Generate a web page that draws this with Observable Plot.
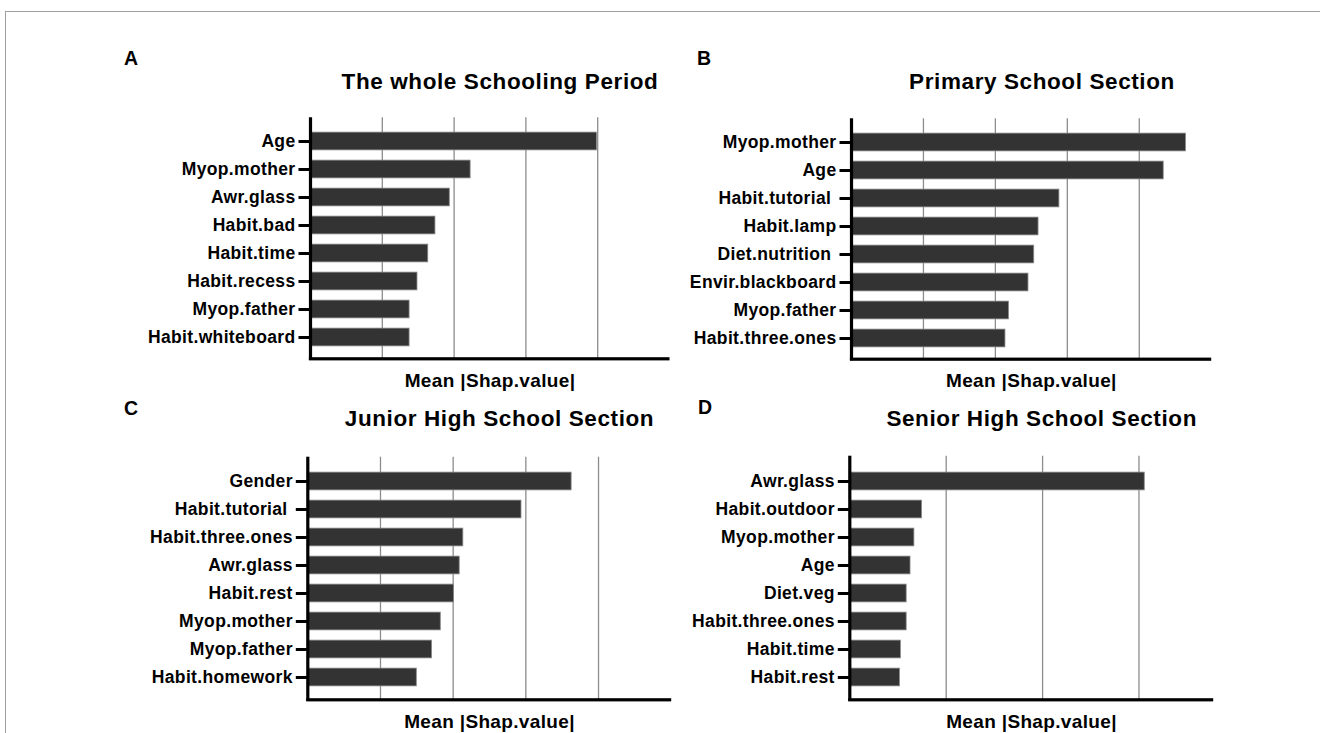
<!DOCTYPE html>
<html>
<head>
<meta charset="utf-8">
<script src="https://cdn.jsdelivr.net/npm/d3@7"></script>
<script src="https://cdn.jsdelivr.net/npm/@observablehq/plot@0.6"></script>
<style>
  html, body { margin: 0; padding: 0; background: #fff; }
  body { width: 1320px; height: 733px; overflow: hidden; position: relative;
         font-family: "Liberation Sans", Arial, Helvetica, sans-serif; }
  #border { position: absolute; left: 5px; top: 11px; width: 1400px; height: 800px;
            border-top: 1px solid #a0a0a0; border-left: 1px solid #a0a0a0; }
  .panel { position: absolute; }
  #labels { position: absolute; left: 0; top: 0; pointer-events: none; }
</style>
</head>
<body>
<div id="border"></div>
<script>
// Feature importance (mean |SHAP value|) per school period
const catsA = ["Age", "Myop.mother", "Awr.glass", "Habit.bad", "Habit.time", "Habit.recess", "Myop.father", "Habit.whiteboard"];
const valsA = [3.99, 2.23, 1.94, 1.74, 1.64, 1.49, 1.38, 1.38];

const catsB = ["Myop.mother", "Age", "Habit.tutorial\u00a0", "Habit.lamp", "Diet.nutrition\u00a0", "Envir.blackboard", "Myop.father", "Habit.three.ones"];
const valsB = [4.65, 4.34, 2.89, 2.60, 2.54, 2.46, 2.19, 2.14];

const catsC = ["Gender", "Habit.tutorial\u00a0", "Habit.three.ones", "Awr.glass", "Habit.rest", "Myop.mother", "Myop.father", "Habit.homework"];
const valsC = [3.63, 2.94, 2.14, 2.09, 2.01, 1.83, 1.71, 1.50];

const catsD = ["Awr.glass", "Habit.outdoor", "Myop.mother", "Age", "Diet.veg", "Habit.three.ones", "Habit.time", "Habit.rest"];
const valsD = [3.06, 0.75, 0.67, 0.63, 0.59, 0.59, 0.53, 0.52];

// Grid positions and axis extents
const gridA = [1, 2, 3, 4];
const gridB = [1, 2, 3, 4];
const gridC = [1, 2, 3, 4];
const gridD = [1, 2, 3];
const xMaxA = 5, xMaxB = 5, xMaxC = 5, xMaxD = 3.77;

const panelLetters = ["A", "B", "C", "D"];
const panelTitles = ["The whole Schooling Period", "Primary School Section", "Junior High School Section", "Senior High School Section"];
const axisLabel = ["Mean |Shap.value|"];

const FONT = '"Liberation Sans", Arial, Helvetica, sans-serif';

const panels = [
  {cats: catsA, vals: valsA, grid: gridA, xMax: xMaxA, left: 100, top: 100, width: 600, height: 300, ml: 210, mr: 31, mt: 17.3, mb: 41.7},
  {cats: catsB, vals: valsB, grid: gridB, xMax: xMaxB, left: 640, top: 100, width: 600, height: 300, ml: 211, mr: 29.3, mt: 18.3, mb: 41.3},
  {cats: catsC, vals: valsC, grid: gridC, xMax: xMaxC, left: 100, top: 440, width: 600, height: 293, ml: 207.3, mr: 29.3, mt: 16.7, mb: 33.7},
  {cats: catsD, vals: valsD, grid: gridD, xMax: xMaxD, left: 640, top: 440, width: 600, height: 293, ml: 209.3, mr: 27.3, mt: 15.7, mb: 33.7}
];

function drawPanel(p) {
  const data = p.cats.map((c, i) => ({feature: c, value: p.vals[i]}));
  const frameH = p.height - p.mt - p.mb;
  const chart = Plot.plot({
    width: p.width,
    height: p.height,
    marginLeft: p.ml, marginRight: p.mr, marginTop: p.mt, marginBottom: p.mb,
    style: {fontFamily: FONT, fontSize: "17.5px", fontWeight: "bold", letterSpacing: "0.35px",
            background: "transparent", overflow: "visible", color: "#000"},
    x: {domain: [0, p.xMax], axis: null},
    y: {domain: p.cats, range: [p.mt + 7.4, p.height - p.mb - 5], padding: 0},
    marks: [
      // vertical grid lines
      Plot.ruleX(p.grid, {stroke: "#8c8c8c", strokeWidth: 1.3}),
      // bars
      Plot.barX(data, {x: "value", y: "feature", fill: "#333333", stroke: "#8a8a8a", strokeWidth: 0.8,
                       insetTop: 5.1, insetBottom: 5.1}),
      // thick left axis line
      Plot.ruleX([0], {stroke: "#000", strokeWidth: 3.2, insetBottom: -1.6}),
      // thick bottom axis line
      Plot.frame({fill: "#000", stroke: "none", insetTop: frameH - 1.6, insetBottom: -1.6, insetLeft: -1.6}),
      // category axis with heavy ticks
      Plot.axisY({tickSize: 11.5, tickPadding: 3.5, strokeWidth: 3, stroke: "#000", fill: "#000",
                  label: null, fontSize: 17.5, fontWeight: "bold"}),
      // x axis title
      Plot.text(axisLabel, {text: d => d, frameAnchor: "bottom", lineAnchor: "top", dy: 14.4,
                            fontSize: 19, fontWeight: "bold", fill: "#000"})
    ]
  });
  const div = document.createElement("div");
  div.className = "panel";
  div.style.left = p.left + "px";
  div.style.top = p.top + "px";
  div.appendChild(chart);
  document.body.appendChild(div);
}

panels.forEach(drawPanel);

// Panel letters and titles
const letterPos = [[124, 65], [697, 65], [124, 414.5], [698, 414]];
const titlePos = [[500, 89.3], [1042, 89.3], [499.5, 425.7], [1041.7, 425.7]];

const overlay = d3.create("svg")
  .attr("id", "labels")
  .attr("width", 1320)
  .attr("height", 733)
  .style("font-family", FONT)
  .style("font-weight", "bold");

overlay.selectAll("text.letter")
  .data(panelLetters)
  .join("text")
  .attr("class", "letter")
  .attr("x", (d, i) => letterPos[i][0])
  .attr("y", (d, i) => letterPos[i][1])
  .attr("font-size", 19.5)
  .attr("fill", "#000")
  .text(d => d);

overlay.selectAll("text.title")
  .data(panelTitles)
  .join("text")
  .attr("class", "title")
  .attr("x", (d, i) => titlePos[i][0])
  .attr("y", (d, i) => titlePos[i][1])
  .attr("text-anchor", "middle")
  .attr("font-size", 22.5)
  .attr("letter-spacing", "0.6px")
  .attr("fill", "#000")
  .text(d => d);

document.body.appendChild(overlay.node());
</script>
</body>
</html>
